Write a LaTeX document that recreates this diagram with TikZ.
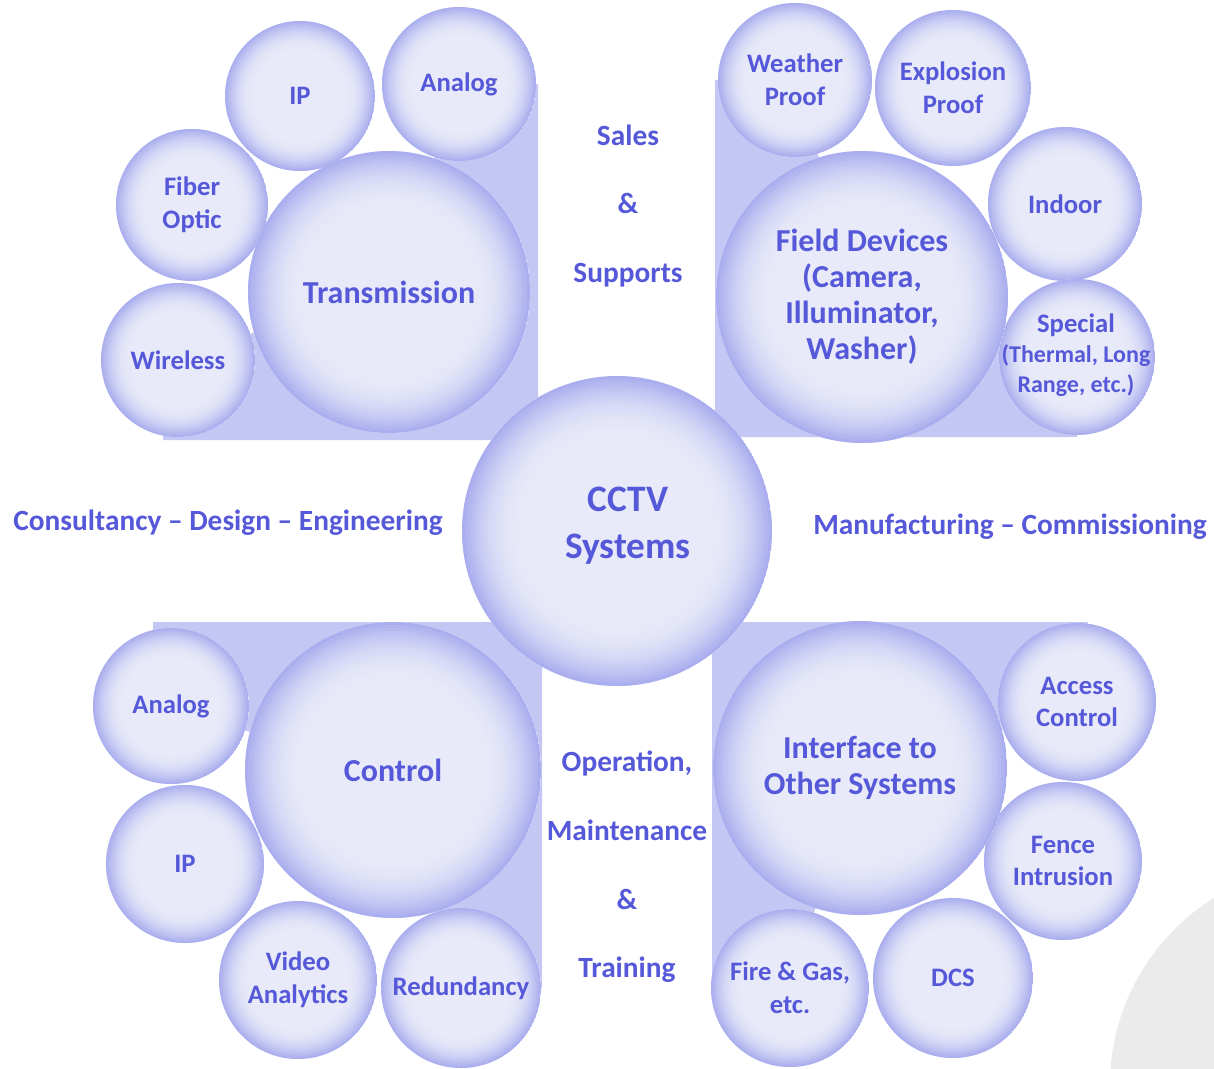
\documentclass[tikz,border=0pt]{standalone}
\usepackage{fontspec}
\setmainfont{Carlito}
\definecolor{txt}{HTML}{5558D8}
\definecolor{bgfill}{HTML}{C4C7F4}
\definecolor{bubin}{HTML}{E8EAF9}
\definecolor{bubedge}{HTML}{AAAEEE}
\definecolor{greyc}{HTML}{EBEBEB}
\tikzset{
  bub/.style={circle, fill=bubin, minimum size=#1*1.5pt, inner sep=0pt, align=center, text=txt,
              font=\fontsize{20}{24.5}\selectfont\bfseries,
              path picture={
                \foreach \k in {0,...,19}{
                  \pgfmathsetmacro\bubf{1-0.02*\k}
                  \pgfmathtruncatemacro\bubp{100*(1-((\bubf-0.62)/0.38)^2)}
                  \fill[bubin!\bubp!bubedge] (path picture bounding box.center) circle[radius=\bubf*#1*0.75pt];
                }
              }},
  bigbub/.style={bub=#1, font=\fontsize{24}{27}\selectfont\bfseries},
  lbl/.style={text=txt, align=center, inner sep=0pt},
  edgetxt/.style={text=txt, align=center, inner sep=0pt, font=\fontsize{22}{27}\selectfont\bfseries},
  backshape/.style={fill=bgfill}
}
\begin{document}
\begin{tikzpicture}[x=0.75pt,y=-0.75pt]
\useasboundingbox (0,0) rectangle (1214,1068);
\fill[white] (0,0) rectangle (1214,1068);
\begin{scope}
  \clip (0,0) rectangle (1214,1068);
  \fill[greyc] (1330,1085) circle[radius=165pt];
\end{scope}
% background quarter shapes
\fill[backshape] (163,440) -- (538,440) -- (538,84) -- (459,84) -- (389,292) -- (163,360) -- cycle;
\fill[backshape] (715,80) -- (795,80) -- (862,297) -- (1077,357) -- (1077,437) -- (715,437) -- cycle;
\fill[backshape] (153,622) -- (542,622) -- (542,988) -- (461,988) -- (393,770) -- (153,706) -- cycle;
\fill[backshape] (712,622) -- (1088,622) -- (1077,702) -- (860,768) -- (790,988) -- (712,988) -- cycle;

% top-left group
\node[bub=75] (tlIP) at (300,96) {IP};
\node[bub=77] (tlAnalog) at (459,84) {Analog};
\node[bub=76] (tlFiber) at (192,205) {Fiber\\Optic};
\node[bub=77] (tlWireless) at (178,360) {Wireless};
\node[bigbub=141] (trans) at (389,292) {Transmission};

% top-right group
\node[bub=77] (trWeather) at (795,80) {Weather\\Proof};
\node[bub=78] (trExplosion) at (953,88) {Explosion\\Proof};
\node[bub=77] (trIndoor) at (1065,204) {Indoor};
\node[bub=78] (trSpecial) at (1077,357) {};
\node[lbl, font=\fontsize{18}{22.5}\selectfont\bfseries] (trSpecialLabel) at (1076,355) {{\fontsize{20}{22.5}\selectfont Special}\\(Thermal, Long\\Range, etc.)};
\node[bigbub=146] (field) at (862,297) {Field Devices\\(Camera,\\Illuminator,\\Washer)};

% bottom-left group
\node[bub=78] (blAnalog) at (171,706) {Analog};
\node[bub=79] (blIP) at (185,864) {IP};
\node[bub=79] (blVideo) at (298,980) {Video\\Analytics};
\node[bub=80] (blRed) at (461,988) {Redundancy};
\node[bigbub=148] (control) at (393,770) {Control};

% bottom-right group
\node[bub=79] (brAccess) at (1077,702) {Access\\Control};
\node[bub=79] (brFence) at (1063,861) {Fence\\Intrusion};
\node[bub=80] (brDCS) at (953,978) {DCS};
\node[bub=79] (brFire) at (790,988) {Fire \& Gas,\\etc.};
\node[bigbub=147] (iface) at (860,768) {Interface to\\Other Systems};

% centre
\node[bub=155] (cctv) at (617,531) {};
\node[lbl, font=\fontsize{28}{35}\selectfont\bfseries] (cctvlabel) at (628,526) {CCTV\\Systems};

% side texts
\node[edgetxt, font=\fontsize{22}{51.5}\selectfont\bfseries] (sales) at (628,206) {Sales\\\&\\Supports};
\node[edgetxt] (consult) at (228,523) {Consultancy – Design – Engineering};
\node[edgetxt] (manuf) at (1010,527) {Manufacturing – Commissioning};
\node[edgetxt, font=\fontsize{22}{51.5}\selectfont\bfseries] (oper) at (627,867) {Operation,\\Maintenance\\\&\\Training};
\end{tikzpicture}
\end{document}
